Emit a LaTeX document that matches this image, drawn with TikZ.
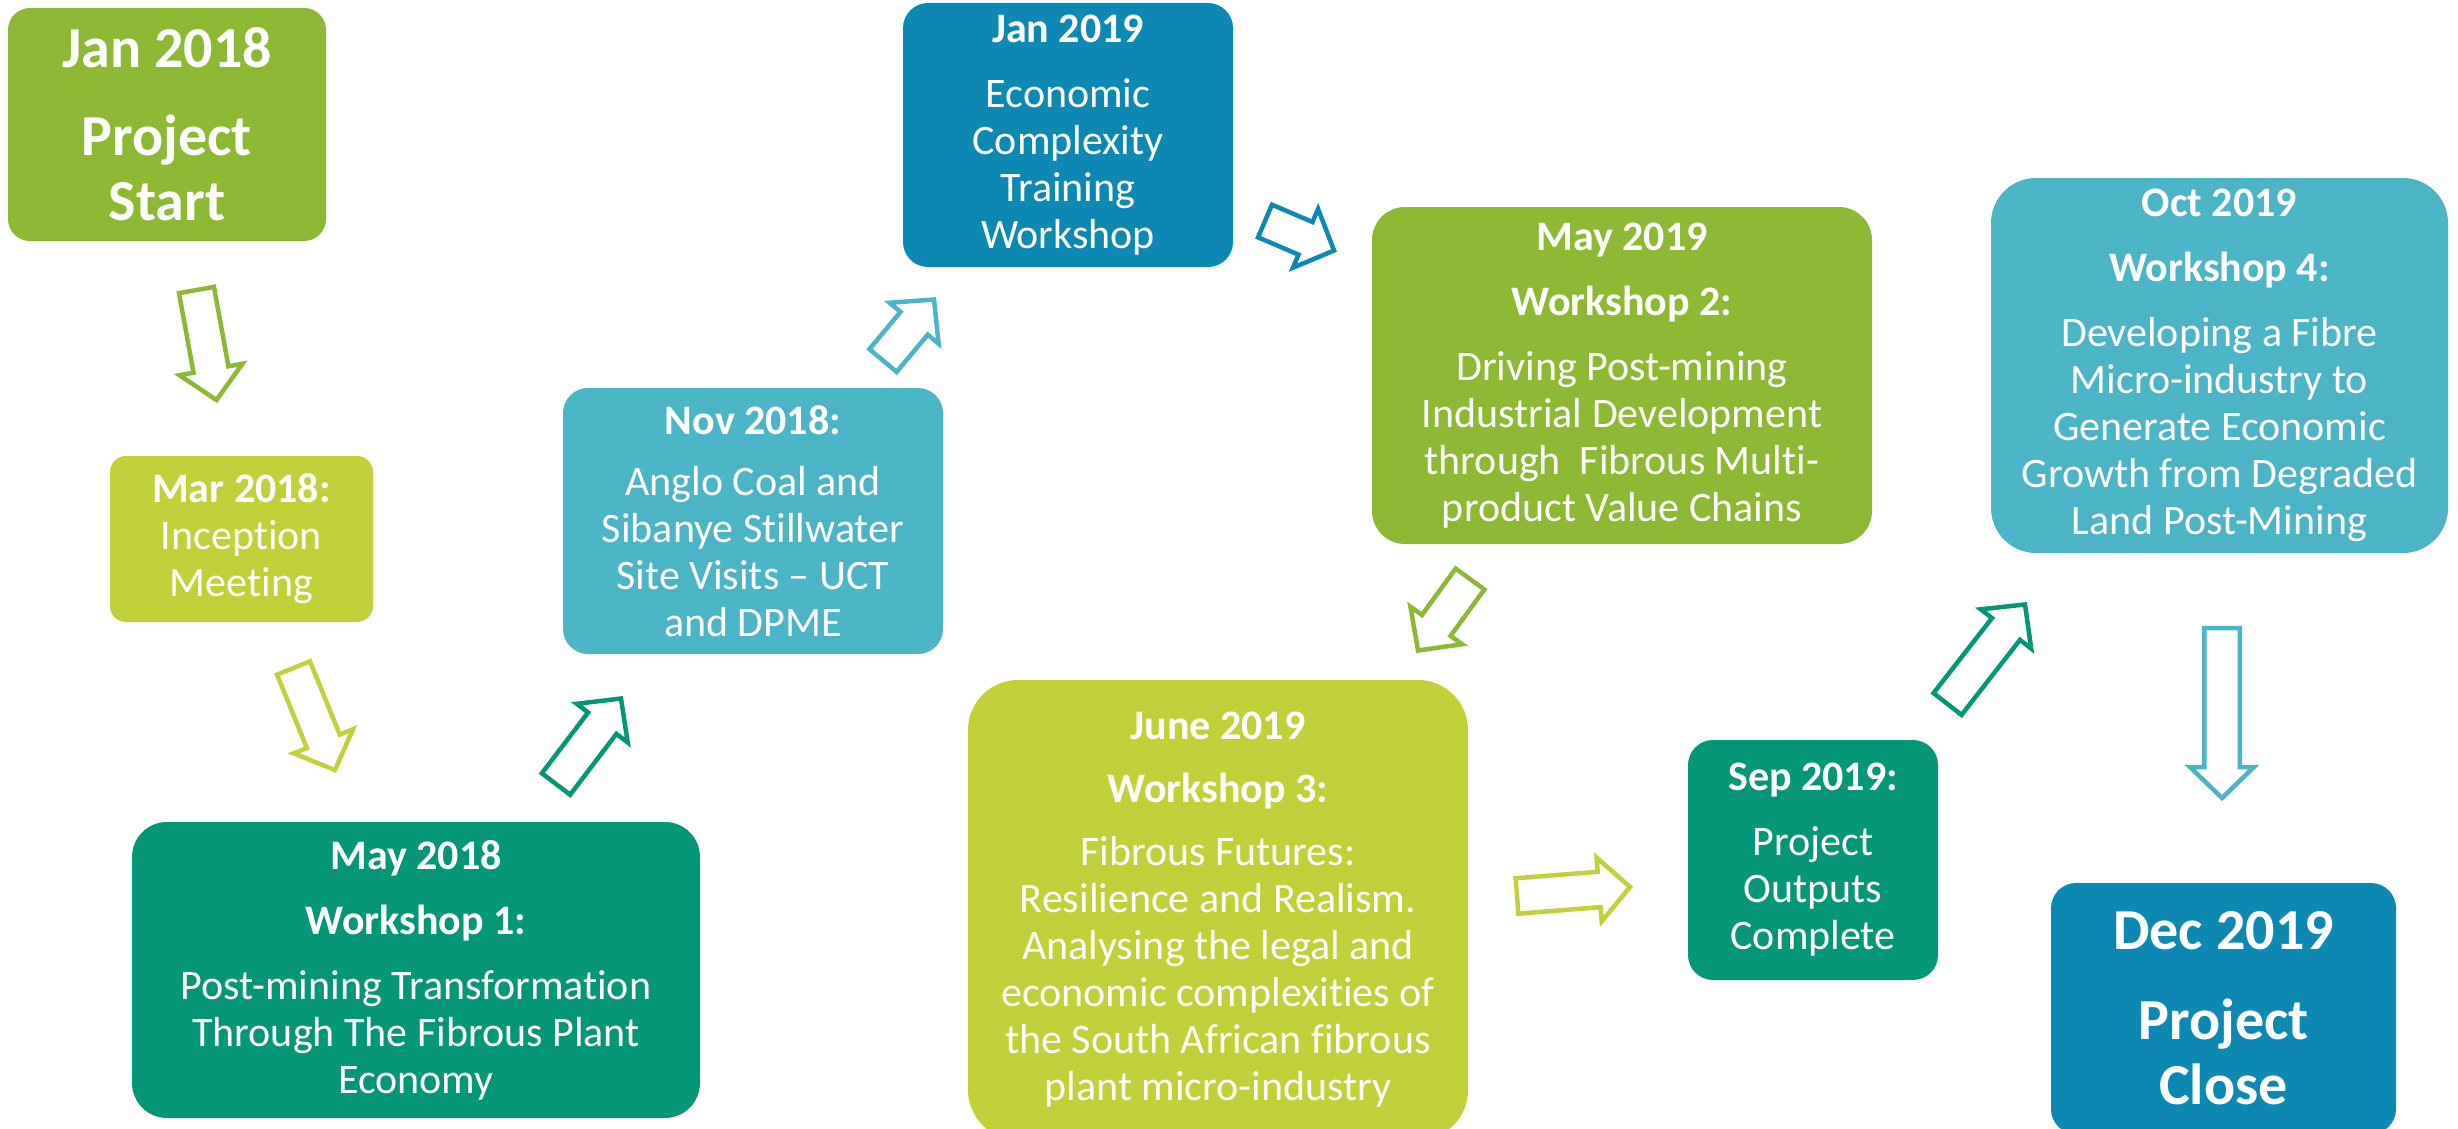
\documentclass[tikz,border=0pt]{standalone}
\usepackage{fontspec}
\setmainfont{Carlito}[Ligatures={TeX,NoCommon}]
\usetikzlibrary{calc}

\definecolor{leafgreen}{HTML}{8CB834}
\definecolor{limegreen}{HTML}{C2D03A}
\definecolor{jadegreen}{HTML}{059678}
\definecolor{aquablue}{HTML}{4BB4C6}
\definecolor{oceanblue}{HTML}{0C88B3}

\def\bodyfont{\fontsize{42}{47}\selectfont}
\def\bigfont{\fontsize{58}{65}\selectfont\bfseries}

\tikzset{
  stage/.style={rectangle, text=white, align=center, inner sep=0pt, font=\bodyfont},
  arrowline/.style={line width=4.5pt, fill=white, line join=miter}
}

% hollow block arrow: colour, tail, tip
\def\blockarrow#1#2#3{
  \path ($(#3)!31pt!(#2)$) coordinate (hb);
  \draw[arrowline, draw=#1] ($(#2)!17.75pt!90:(#3)$) -- ($(hb)!17.75pt!90:(#3)$)
    -- ($(hb)!32pt!90:(#3)$) -- (#3) -- ($(hb)!32pt!-90:(#3)$)
    -- ($(hb)!17.75pt!-90:(#3)$) -- ($(#2)!17.75pt!-90:(#3)$) -- cycle;
}

\begin{document}
\begin{tikzpicture}[x=1pt, y=-1pt]
  \useasboundingbox (0,0) rectangle (2458,1129);

  % Jan 2018
  \node[stage, fill=leafgreen, rounded corners=22pt, minimum width=318pt, minimum height=233pt, font=\bigfont]
    (jan18) at (167,124.5) {Jan 2018\\[23pt]Project\\Start};

  % Mar 2018
  \node[stage, fill=limegreen, rounded corners=16pt, minimum width=263pt, minimum height=166pt]
    (mar18) at (241.5,539) {\textbf{Mar 2018:}\\Inception\\Meeting};

  % May 2018
  \node[stage, fill=jadegreen, rounded corners=35pt, minimum width=568pt, minimum height=296pt]
    (may18) at (416,970) {\textbf{May 2018}\\[18pt]\textbf{Workshop 1:}\\[18pt]Post-mining Transformation\\Through The Fibrous Plant\\Economy};

  % Nov 2018
  \node[stage, fill=aquablue, rounded corners=25pt, minimum width=380pt, minimum height=266pt]
    (nov18) at (753,521) {\textbf{Nov 2018:}\\[14pt]Anglo Coal and\\Sibanye Stillwater\\Site Visits -- UCT\\and DPME};

  % Jan 2019
  \node[stage, fill=oceanblue, rounded corners=25pt, minimum width=330pt, minimum height=264pt]
    (jan19) at (1068,135) {\textbf{Jan 2019}\\[18pt]Economic\\Complexity\\Training\\Workshop};

  % May 2019
  \node[stage, fill=leafgreen, rounded corners=33pt, minimum width=500pt, minimum height=337pt]
    (may19) at (1622,375.5) {\textbf{May 2019}\\[18pt]\textbf{Workshop 2:}\\[18pt]Driving Post-mining\\Industrial Development\\through\ \ Fibrous Multi-\\product Value Chains};

  % June 2019
  \node[stage, fill=limegreen, rounded corners=50pt, minimum width=500pt, minimum height=460pt]
    (jun19) at (1218,910) {\textbf{June 2019}\\[16pt]\textbf{Workshop 3:}\\[16pt]Fibrous Futures:\\Resilience and Realism.\\Analysing the legal and\\economic complexities of\\the South African fibrous\\plant micro-industry};

  % Sep 2019
  \node[stage, fill=jadegreen, rounded corners=25pt, minimum width=250pt, minimum height=240pt]
    (sep19) at (1813,860) {\textbf{Sep 2019:}\\[18pt]Project\\Outputs\\Complete};

  % Oct 2019
  \node[stage, fill=aquablue, rounded corners=45pt, minimum width=457pt, minimum height=375pt]
    (oct19) at (2219.5,365.5) {\textbf{Oct 2019}\\[18pt]\textbf{Workshop 4:}\\[18pt]Developing a Fibre\\Micro-industry to\\Generate Economic\\Growth from Degraded\\Land Post-Mining};

  % Dec 2019
  \node[stage, fill=oceanblue, rounded corners=25pt, minimum width=345pt, minimum height=251pt, font=\bigfont]
    (dec19) at (2223.5,1008.5) {Dec 2019\\[25pt]Project\\Close};

  % Arrows
  \coordinate (t1) at (196.5,290);   \coordinate (h1) at (216.5,400);
  \coordinate (t2) at (293.5,668);   \coordinate (h2) at (335,770);
  \coordinate (t3) at (556,784);     \coordinate (h3) at (621,698.5);
  \coordinate (t4) at (883,360.5);   \coordinate (h4) at (934,299.5);
  \coordinate (t5) at (1265,221);    \coordinate (h5) at (1334,250.5);
  \coordinate (t6) at (1470,579);    \coordinate (h6) at (1418,650.5);
  \coordinate (t7) at (1517,896);    \coordinate (h7) at (1630,887);
  \coordinate (t8) at (1947.5,704);  \coordinate (h8) at (2025,604.5);
  \coordinate (t9) at (2222,628);    \coordinate (h9) at (2222,798);

  \blockarrow{leafgreen}{t1}{h1}
  \blockarrow{limegreen}{t2}{h2}
  \blockarrow{jadegreen}{t3}{h3}
  \blockarrow{aquablue}{t4}{h4}
  \blockarrow{oceanblue}{t5}{h5}
  \blockarrow{leafgreen}{t6}{h6}
  \blockarrow{limegreen}{t7}{h7}
  \blockarrow{jadegreen}{t8}{h8}
  \blockarrow{aquablue}{t9}{h9}
\end{tikzpicture}
\end{document}
